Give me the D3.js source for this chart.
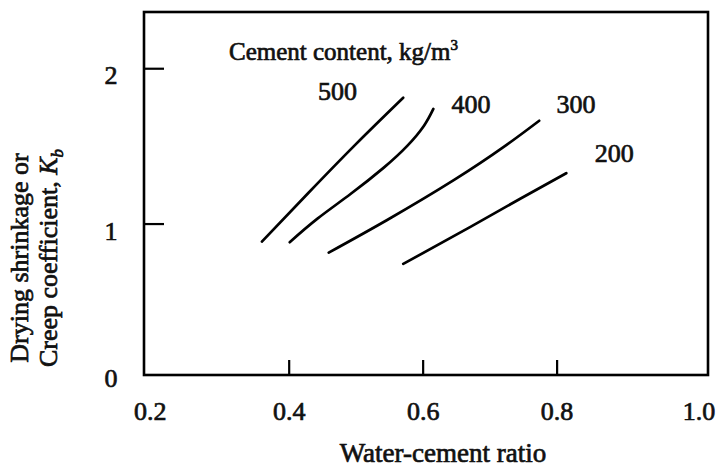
<!DOCTYPE html>
<html>
<head>
<meta charset="utf-8">
<script src="https://cdn.jsdelivr.net/npm/d3@7"></script>
<style>
  html, body { margin: 0; padding: 0; background: #fff; }
  svg { display: block; }
  text { font-family: "Liberation Serif", "Times New Roman", serif; fill: #111; stroke: #111; stroke-width: 0.7px; }
</style>
</head>
<body>
<svg id="chart" width="719" height="472"></svg>
<script>
// Water-cement ratio (x) vs. coefficient K_b (y), one curve per cement content
const cementContents = ["500", "400", "300", "200"];
const ratio500 = [0.360, 0.430, 0.500, 0.571];
const kb500    = [0.884, 1.200, 1.510, 1.810];
const ratio400 = [0.4015, 0.4425, 0.4923, 0.542, 0.577, 0.602, 0.616];
const kb400    = [0.880, 1.030, 1.190, 1.360, 1.500, 1.630, 1.738];
const ratio300 = [0.4598, 0.547, 0.647, 0.7216, 0.774];
const kb300    = [0.813, 1.023, 1.281, 1.495, 1.662];
const ratio200 = [0.571, 0.672, 0.747, 0.8145];
const kb200    = [0.740, 0.980, 1.163, 1.324];

const xTicks = [0.2, 0.4, 0.6, 0.8, 1.0];
const xTickLabels = ["0.2", "0.4", "0.6", "0.8", "1.0"];
const yTicks = [0, 1, 2];
const yTickLabels = ["0", "1", "2"];

const seriesX = [ratio500, ratio400, ratio300, ratio200];
const seriesY = [kb500, kb400, kb300, kb200];
// where each curve's cement-content label sits (data units)
const labelX = [0.473, 0.672, 0.829, 0.886];
const labelY = [1.795, 1.712, 1.712, 1.396];

const svg = d3.select("#chart");
svg.append("rect").attr("width", 719).attr("height", 472).attr("fill", "#fff");

const x = d3.scaleLinear().domain([0.184, 1.026]).range([144, 708]);
const y = d3.scaleLinear().domain([0.025, 2.362]).range([375, 12]);

const FS = 26;

// inward tick marks on the bottom edge
const xAxis = d3.axisBottom(x)
  .tickValues(xTicks)
  .tickFormat((d, i) => xTickLabels[i])
  .tickSizeInner(-15).tickSizeOuter(0);
const gx = svg.append("g").attr("transform", `translate(0,${y.range()[0]})`).call(xAxis);
gx.select(".domain").remove();
gx.selectAll(".tick line")
  .attr("stroke", "#000").attr("stroke-width", 2.2)
  .attr("display", d => (d === 0.2 || d === 1.0) ? "none" : null);
gx.selectAll(".tick text")
  .attr("y", 45).attr("dy", 0)
  .attr("dx", d => d === 0.2 ? -5 : (d === 1.0 ? 8 : 0))
  .style("font-size", FS + "px")
  .style("font-family", '"Liberation Serif", serif')
  .attr("fill", "#111");

// inward tick marks on the left edge
const yAxis = d3.axisLeft(y)
  .tickValues(yTicks)
  .tickFormat((d, i) => yTickLabels[i])
  .tickSizeInner(-20).tickSizeOuter(0);
const gy = svg.append("g").attr("transform", `translate(${x.range()[0]},0)`).call(yAxis);
gy.select(".domain").remove();
gy.selectAll(".tick line")
  .attr("stroke", "#000").attr("stroke-width", 2.2)
  .attr("display", d => d === 0 ? "none" : null);
gy.selectAll(".tick text")
  .attr("x", -33).attr("text-anchor", "middle")
  .attr("dy", d => d === 0 ? "0.3em" : "0.6em")
  .style("font-size", FS + "px")
  .style("font-family", '"Liberation Serif", serif')
  .attr("fill", "#111");

// plot frame
svg.append("rect")
  .attr("x", x.range()[0]).attr("y", y.range()[1])
  .attr("width", x.range()[1] - x.range()[0])
  .attr("height", y.range()[0] - y.range()[1])
  .attr("fill", "none").attr("stroke", "#000").attr("stroke-width", 2.6);

// curves
const line = d3.line()
  .x(d => x(d[0])).y(d => y(d[1]))
  .curve(d3.curveNatural);
seriesX.forEach((xs, i) => {
  const pts = xs.map((v, j) => [v, seriesY[i][j]]);
  svg.append("path").datum(pts)
    .attr("d", line)
    .attr("fill", "none").attr("stroke", "#000")
    .attr("stroke-width", 2.7).attr("stroke-linecap", "round");
});

// curve labels
cementContents.forEach((c, i) => {
  svg.append("text")
    .attr("x", x(labelX[i])).attr("y", y(labelY[i]))
    .attr("text-anchor", "middle")
    .style("font-size", FS + "px")
    .text(c);
});

// legend heading
const head = svg.append("text")
  .attr("x", 229).attr("y", 60)
  .style("font-size", "25px");
head.append("tspan").text("Cement content, kg/m");
head.append("tspan").attr("dy", -10).style("font-size", "15px").text("3");

// axis titles
svg.append("text")
  .attr("x", 443).attr("y", 462)
  .attr("text-anchor", "middle")
  .style("font-size", "27px")
  .text("Water-cement ratio");

const yt = svg.append("g").attr("transform", "translate(0,258) rotate(-90)");
yt.append("text").attr("x", 0).attr("y", 28)
  .attr("text-anchor", "middle").style("font-size", FS + "px")
  .text("Drying shrinkage or");
const t2 = yt.append("text").attr("x", 0).attr("y", 57)
  .attr("text-anchor", "middle").style("font-size", FS + "px");
t2.append("tspan").text("Creep coefficient, ");
t2.append("tspan").style("font-style", "italic").text("K");
t2.append("tspan").style("font-style", "italic").style("font-size", "17px").attr("dy", 6).text("b");
</script>
</body>
</html>
